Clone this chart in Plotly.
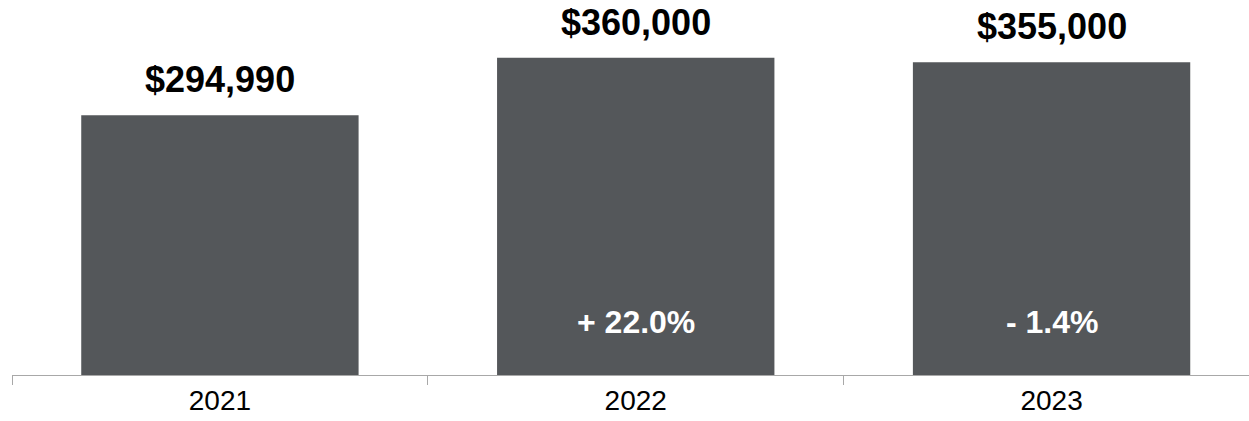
import plotly.graph_objects as go

years = ["2021", "2022", "2023"]
values = [294990, 360000, 355000]
value_labels = ["$294,990", "$360,000", "$355,000"]
change_labels = ["", "+ 22.0%", "- 1.4%"]

BAR = "#54575a"
FONT = "Liberation Sans, Arial, Helvetica, sans-serif"

fig = go.Figure(go.Bar(x=years, y=values, width=0.667, marker=dict(color=BAR, line=dict(width=0)),
                       hoverinfo="skip"))

for i, (v, lab) in enumerate(zip(values, value_labels)):
    fig.add_annotation(x=i, y=v, text=f"<b>{lab}</b>", showarrow=False, yanchor="bottom",
                       yshift=13, font=dict(family=FONT, size=36, color="#000000"))

for i, lab in enumerate(change_labels):
    if lab:
        fig.add_annotation(x=i, y=0, text=f"<b>{lab}</b>", showarrow=False, yanchor="bottom",
                           yshift=33, font=dict(family=FONT, size=32, color="#ffffff"))

fig.update_layout(
    width=1249, height=421,
    margin=dict(l=12, r=0, t=5, b=46),
    paper_bgcolor="white", plot_bgcolor="white",
    showlegend=False,
    bargap=0.333,
    xaxis=dict(type="category", range=[-0.5, 2.4748], tickson="boundaries", ticks="outside",
               ticklen=9, tickcolor="#a8a8a8", tickwidth=1, showline=True, linecolor="#a8a8a8",
               linewidth=1, showgrid=False, zeroline=False,
               tickfont=dict(family=FONT, size=28, color="#000000")),
    yaxis=dict(range=[0, 420000], visible=False, showgrid=False, zeroline=False),
)

fig.write_html("out.html", config={"displayModeBar": False},
               post_script="document.body.style.margin='0';document.body.style.overflow='hidden';")
